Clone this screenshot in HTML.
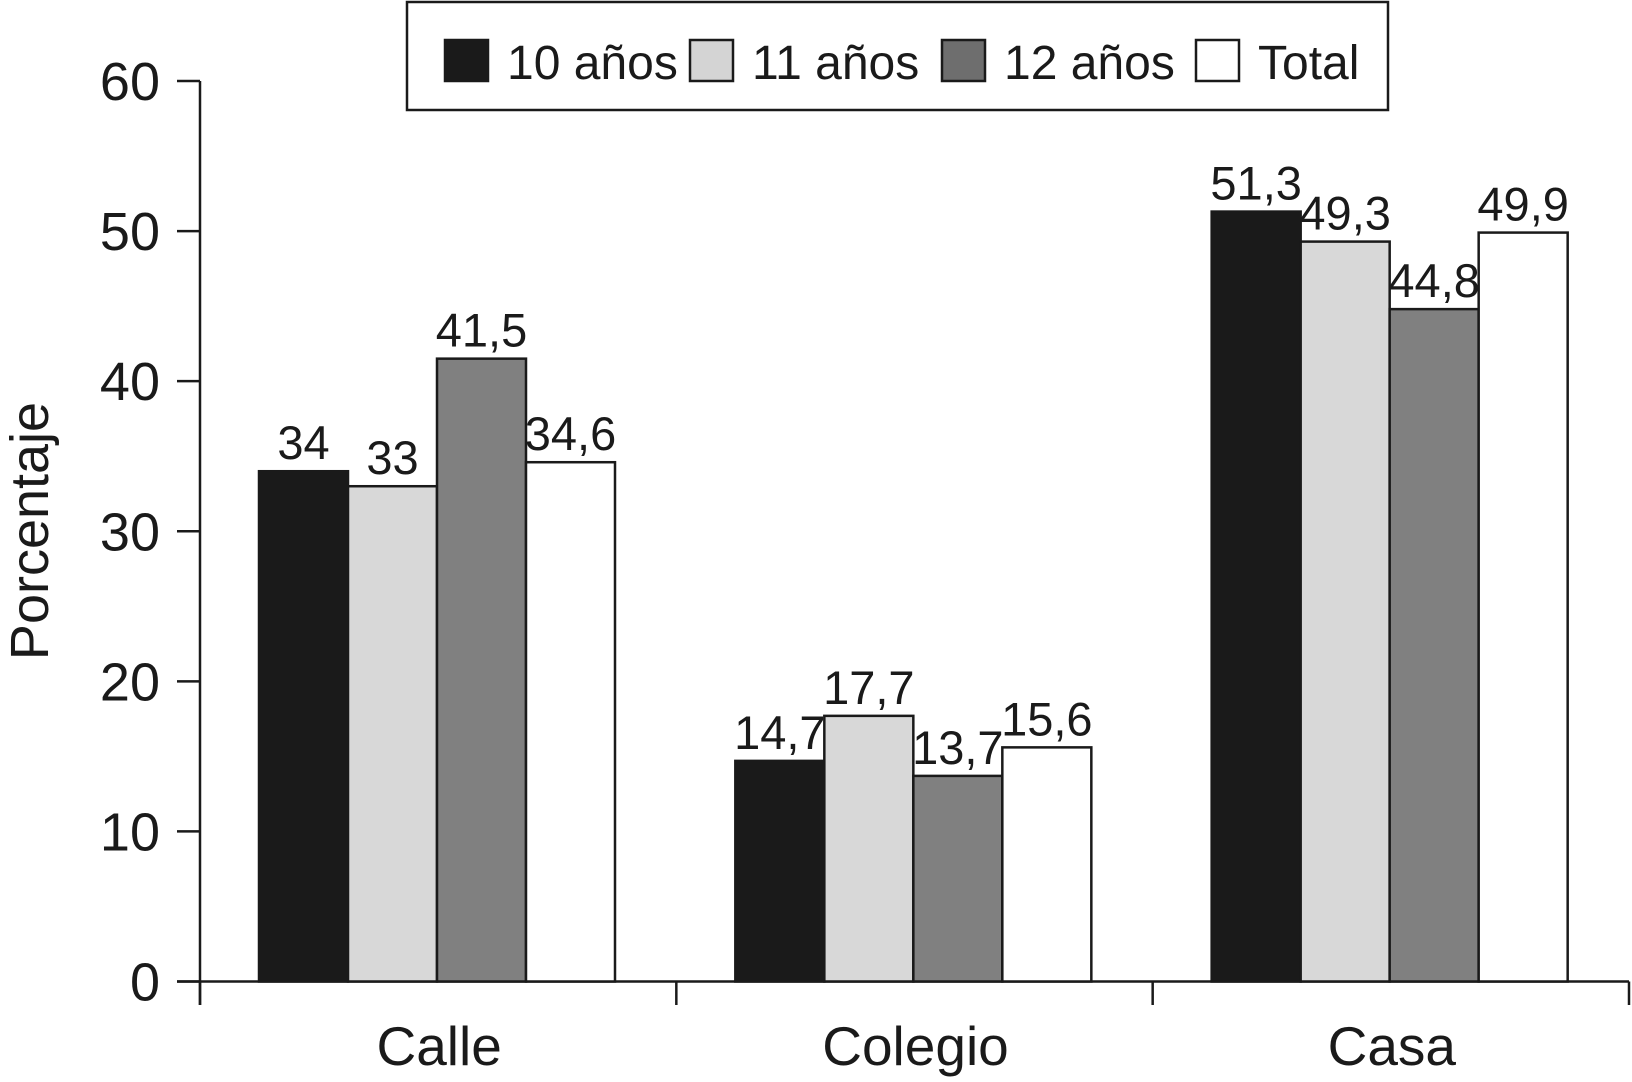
<!DOCTYPE html>
<html><head><meta charset="utf-8"><style>
html,body{margin:0;padding:0;background:#fff}
svg{display:block;font-family:"Liberation Sans",Arial,sans-serif}
</style></head><body>
<svg id="chart" width="1632" height="1082" viewBox="0 0 1632 1082">
<g id="legend">
<rect x="407" y="2" width="981" height="108" fill="#fff" stroke="#1a1a1a" stroke-width="2.5"/>
</g>
<g id="axes"></g>
<g id="bars"></g>
<text x="30" y="531" font-size="54" text-anchor="middle" transform="rotate(-90 30 531)" dominant-baseline="central" fill="#1a1a1a">Porcentaje</text>
</svg>
<script>
const categories = ["Calle","Colegio","Casa"];
const seriesNames = ["10 años","11 años","12 años","Total"];
const s10 = [34,14.7,51.3];
const s11 = [33,17.7,49.3];
const s12 = [41.5,13.7,44.8];
const sTotal = [34.6,15.6,49.9];
const valueLabels = [["34","14,7","51,3"],["33","17,7","49,3"],["41,5","13,7","44,8"],["34,6","15,6","49,9"]];
const yTicks = [0,10,20,30,40,50,60];

const NS="http://www.w3.org/2000/svg";
const colors=["#1a1a1a","#d8d8d8","#808080","#ffffff"];
const legendColors=["#1a1a1a","#d4d4d4","#6e6e6e","#ffffff"];
const x0=200,x1=1629,y0=981.5,yTop=81;
const groupW=(x1-x0)/categories.length, barW=89, barOff=59;
function yScale(v){return y0-(v/60)*(y0-yTop);}
function xBar(ci,si){return x0+ci*groupW+barOff+si*barW;}
function mk(tag,attrs,parent){const e=document.createElementNS(NS,tag);for(const k in attrs)e.setAttribute(k,attrs[k]);parent.appendChild(e);return e;}
const axes=document.getElementById('axes'),bars=document.getElementById('bars'),legend=document.getElementById('legend');
const series=[s10,s11,s12,sTotal];
series.forEach((arr,si)=>{arr.forEach((v,ci)=>{
  const r=mk('rect',{x:xBar(ci,si),y:yScale(v),width:barW,height:y0-yScale(v),fill:colors[si],stroke:"#1a1a1a","stroke-width":2.5},bars);
  
  
  const t=mk('text',{x:xBar(ci,si)+barW/2,y:yScale(v)-12,"font-size":47,"text-anchor":"middle",fill:"#1a1a1a"},bars);
  t.textContent=valueLabels[si][ci];
  
  
});});
let l=mk('line',{x1:x0,y1:yTop,x2:x0,y2:1005,stroke:"#1a1a1a","stroke-width":2.5},axes);


l=mk('line',{x1:177,y1:y0,x2:x1,y2:y0,stroke:"#1a1a1a","stroke-width":2.5},axes);


yTicks.forEach(v=>{
  const tk=mk('line',{x1:177,y1:yScale(v),x2:x0,y2:yScale(v),stroke:"#1a1a1a","stroke-width":2.5},axes);
  
  
  const t=mk('text',{x:160,y:yScale(v)+19,"font-size":54,"text-anchor":"end",fill:"#1a1a1a"},axes);
  t.textContent=v;
  
  
});
for(let i=0;i<=categories.length;i++){
  const tk=mk('line',{x1:x0+i*groupW,y1:y0,x2:x0+i*groupW,y2:1005,stroke:"#1a1a1a","stroke-width":2.5},axes);
  
  
}
categories.forEach((c,ci)=>{
  const t=mk('text',{x:x0+ci*groupW+groupW/2+1,y:1065,"font-size":55,"text-anchor":"middle",fill:"#1a1a1a"},axes);
  t.textContent=c;
  
  
});
const legX=[445,690,942,1196];
seriesNames.forEach((n,i)=>{
  const r=mk('rect',{x:legX[i],y:40,width:43,height:41,fill:legendColors[i],stroke:"#1a1a1a","stroke-width":2.5},legend);
  
  
  const t=mk('text',{x:legX[i]+62,y:79,"font-size":48,fill:"#1a1a1a"},legend);
  t.textContent=n;
  
  
});
</script>
</body></html>
